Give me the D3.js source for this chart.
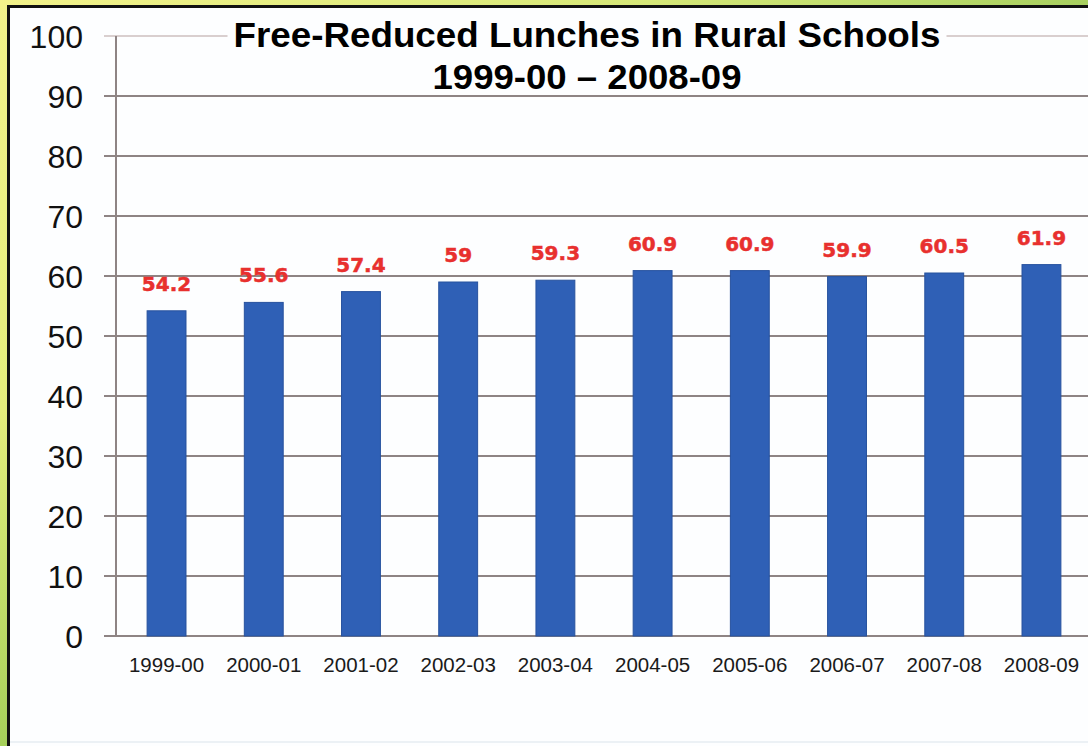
<!DOCTYPE html>
<html>
<head>
<meta charset="utf-8">
<script src="https://cdn.jsdelivr.net/npm/d3@7"></script>
<style>
  html, body { margin: 0; padding: 0; background: #fff; }
  svg { display: block; }
</style>
</head>
<body>
<svg id="chart" width="1088" height="746"></svg>
<script>
const categories = ["1999-00","2000-01","2001-02","2002-03","2003-04","2004-05","2005-06","2006-07","2007-08","2008-09"];
const values = [54.2, 55.6, 57.4, 59, 59.3, 60.9, 60.9, 59.9, 60.5, 61.9];
const valueLabels = ["54.2","55.6","57.4","59","59.3","60.9","60.9","59.9","60.5","61.9"];
const yTicks = [0,10,20,30,40,50,60,70,80,90,100];
const titleLines = ["Free-Reduced Lunches in Rural Schools", "1999-00 \u2013 2008-09"];

const W = 1088, H = 746;
const svg = d3.select("#chart");

// frame gradients
const defs = svg.append("defs");
const gl = defs.append("linearGradient").attr("id","leftG").attr("x1",0).attr("y1",0).attr("x2",0).attr("y2",1);
gl.append("stop").attr("offset","0%").attr("stop-color","#f2f28a");
gl.append("stop").attr("offset","55%").attr("stop-color","#e4ee7c");
gl.append("stop").attr("offset","100%").attr("stop-color","#a6d05a");
const gt = defs.append("linearGradient").attr("id","topG").attr("x1",0).attr("y1",0).attr("x2",1).attr("y2",0);
gt.append("stop").attr("offset","0%").attr("stop-color","#f2f28a");
gt.append("stop").attr("offset","60%").attr("stop-color","#d6e878");
gt.append("stop").attr("offset","100%").attr("stop-color","#a8d060");

svg.append("rect").attr("x",0).attr("y",0).attr("width",W).attr("height",H).attr("fill","url(#leftG)");
svg.append("rect").attr("x",0).attr("y",0).attr("width",W).attr("height",6).attr("fill","url(#topG)");
// black inner border (left and top only)
svg.append("rect").attr("x",7).attr("y",5).attr("width",W-7).attr("height",H-5).attr("fill","#111");
// panel
svg.append("rect").attr("x",10).attr("y",8).attr("width",W-10).attr("height",H-8).attr("fill","#fdfeff");
svg.append("line").attr("x1",10).attr("x2",W).attr("y1",742).attr("y2",742).attr("stroke","#e6ecf2").attr("stroke-width",1.5);

const x0 = 116, x1 = 1092, yTop = 36, yBot = 636;
const x = d3.scaleBand().domain(categories).range([x0, x1]).paddingInner(0.6).paddingOuter(0.32);
const y = d3.scaleLinear().domain([0, 100]).range([yBot, yTop]);

// gridlines
svg.append("g").selectAll("line").data(yTicks).join("line")
  .attr("x1", 104).attr("x2", W)
  .attr("y1", d => y(d)).attr("y2", d => y(d))
  .attr("stroke", d => d === 100 ? "#d9cfcf" : "#8e8484")
  .attr("stroke-width", 2);

// y axis line
svg.append("line").attr("x1", x0).attr("x2", x0).attr("y1", y(100)).attr("y2", y(0))
  .attr("stroke", "#8e8484").attr("stroke-width", 2);

// y tick labels
svg.append("g").selectAll("text").data(yTicks).join("text")
  .attr("x", 83).attr("y", d => y(d)).attr("dy", "0.36em")
  .attr("text-anchor", "end")
  .attr("font-family", "Liberation Sans, Arial, sans-serif")
  .attr("font-size", 32).attr("fill", "#111")
  .text(d => d);

// bars
svg.append("g").selectAll("rect").data(values).join("rect")
  .attr("x", (d, i) => x(categories[i]))
  .attr("width", x.bandwidth())
  .attr("y", d => y(d))
  .attr("height", d => y(0) - y(d))
  .attr("fill", "#2f60b6")
  .attr("stroke", "#27529e").attr("stroke-width", 1);

// value labels
svg.append("g").selectAll("text").data(values).join("text")
  .attr("x", (d, i) => x(categories[i]) + x.bandwidth() / 2)
  .attr("y", d => y(d) - 20)
  .attr("text-anchor", "middle")
  .attr("font-family", "DejaVu Sans, Verdana, sans-serif")
  .attr("font-weight", "bold")
  .attr("font-size", 20).attr("fill", "#e8302e")
  .attr("stroke", "#e8302e").attr("stroke-width", 0.5)
  .text((d, i) => valueLabels[i]);

// x labels
svg.append("g").selectAll("text").data(categories).join("text")
  .attr("x", d => x(d) + x.bandwidth() / 2)
  .attr("y", 672)
  .attr("text-anchor", "middle")
  .attr("font-family", "Liberation Sans, Arial, sans-serif")
  .attr("font-size", 20.5).attr("fill", "#1a1a1a")
  .text(d => d);

// title with white background behind first line
const cx = 587;
const tg = svg.append("g");
const bg = tg.append("rect").attr("fill", "#fdfeff");
const t1 = tg.append("text").attr("x", cx).attr("y", 47).attr("text-anchor", "middle")
  .attr("font-family", "Liberation Sans, Arial, sans-serif").attr("font-weight", "bold")
  .attr("font-size", 35).attr("fill", "#000")
  .attr("textLength", 707).attr("lengthAdjust", "spacingAndGlyphs")
  .text(titleLines[0]);
bg.attr("x", cx - 707 / 2 - 6).attr("y", 30).attr("width", 707 + 12).attr("height", 14);
tg.append("text").attr("x", cx).attr("y", 89).attr("text-anchor", "middle")
  .attr("font-family", "Liberation Sans, Arial, sans-serif").attr("font-weight", "bold")
  .attr("font-size", 35).attr("fill", "#000")
  .attr("textLength", 309).attr("lengthAdjust", "spacingAndGlyphs")
  .text(titleLines[1]);
</script>
</body>
</html>
